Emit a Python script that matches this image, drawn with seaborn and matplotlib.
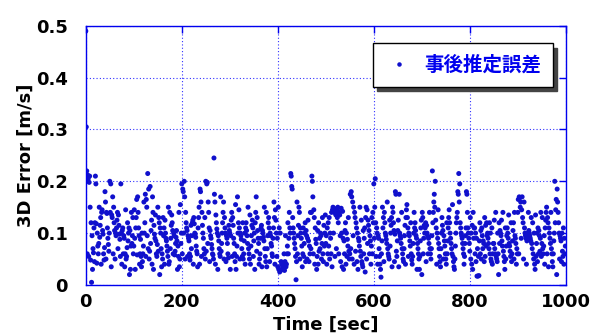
import numpy as np
import pandas as pd
import matplotlib
matplotlib.use("Agg")
import matplotlib.pyplot as plt
import seaborn as sns

# 3D error values in thousandths of m/s, one per second (t = 0..999)
err_mm = [
    490,305,220,60,212,205,55,198,210,150, 48,120,5,95,30,70,62,110,45,120, 210,195,118,42,100,75,60,80,150,92, 115,130,40,140,145,105,98,60,48,72, 180,160,50,140,138,110,90,78,65,100,
    200,140,195,35,135,130,170,60,150,120, 105,50,100,95,110,125,140,70,135,115, 98,88,55,195,100,40,105,110,60,95, 90,35,60,145,50,55,72,120,85,100, 110,20,105,30,75,140,80,95,130,60,
    75,145,90,30,110,130,165,58,170,140, 110,95,40,60,88,55,35,100,45,60, 75,160,100,120,175,55,165,150,95,215, 70,185,50,65,190,80,105,125,40,170, 140,30,115,98,90,135,85,60,55,78,
    150,65,130,120,20,110,100,70,35,60, 50,130,95,110,40,125,100,90,85,75, 65,55,150,40,45,140,70,90,115,135, 120,105,60,100,95,58,65,80,92,105, 85,30,75,55,140,35,50,155,80,100,
    195,60,185,180,100,200,170,50,140,120, 110,105,55,95,90,85,60,48,55,115, 70,95,120,125,40,130,118,100,98,92, 75,65,60,35,110,130,150,40,185,180, 160,55,140,115,100,90,70,60,130,50,
    200,65,195,198,80,160,140,110,45,105, 95,90,78,70,60,58,50,245,175,160, 40,135,120,108,100,30,95,85,70,60, 55,170,65,80,100,120,140,160,50,130, 110,100,45,95,90,80,60,52,115,105,
    100,30,95,125,140,55,130,115,90,80, 60,45,155,30,55,75,170,100,120,145, 110,50,100,95,88,70,55,120,50,60, 85,100,40,110,120,105,95,80,150,70, 60,50,135,40,75,95,115,125,110,55,
    85,100,30,120,140,170,65,130,105,90, 80,40,50,60,90,110,115,35,105,100, 92,85,150,70,55,45,140,35,70,95, 120,130,110,45,100,95,80,75,60,55, 90,110,160,130,40,145,125,100,55,90,
    35,150,30,110,25,100,28,45,40,30, 35,40,30,60,28,45,95,35,40,60, 75,120,60,90,140,110,100,215,210,190, 185,130,110,100,90,80,70,55,10,45, 160,60,95,115,150,140,50,110,100,90,
    75,35,60,110,55,80,100,120,45,105, 95,50,90,125,85,45,75,60,140,70, 140,210,200,170,60,145,130,40,110,88, 80,30,55,105,40,120,65,90,70,100, 95,50,80,130,60,45,115,75,100,135,
    80,95,40,110,60,120,75,130,50,100, 90,60,140,35,145,150,100,148,142,55, 138,135,70,145,130,150,120,60,140,135, 95,45,148,100,35,142,90,30,85,60, 105,120,40,100,55,88,75,130,65,50,
    60,175,70,180,170,50,160,95,150,40, 140,130,65,120,110,45,100,30,90,85, 75,150,65,55,125,45,40,35,105,60, 90,110,25,130,150,50,145,80,125,115, 105,60,95,85,40,75,130,60,140,120,
    195,90,150,205,120,55,110,100,40,95, 90,70,55,40,30,15,60,85,150,110, 130,45,140,120,100,95,88,80,160,70, 60,55,50,125,75,100,115,130,35,150, 140,120,105,45,98,180,175,65,55,85,
    105,125,35,175,100,95,90,80,140,70, 60,50,45,70,95,115,40,130,145,155, 130,110,55,100,95,85,75,120,60,48, 40,55,80,100,140,110,120,105,95,90, 30,80,70,60,50,30,55,85,110,125,
    20,140,130,60,90,115,100,110,120,45, 115,100,95,60,90,80,140,70,60,50, 70,95,220,120,140,160,175,150,200,125, 110,40,100,90,145,80,70,55,45,35, 70,100,130,115,105,50,95,85,75,60,
    50,40,120,60,85,110,130,145,120,100, 90,80,70,60,155,55,45,35,30,50, 75,100,120,130,140,180,175,215,160,195, 120,110,100,95,90,80,70,60,40,55, 80,95,110,180,175,140,110,100,90,80,
    65,130,50,100,40,115,30,140,90,110, 110,60,100,45,90,17,70,17,55,18, 85,120,60,105,50,110,95,70,85,80, 45,130,55,115,75,120,95,100,90,80, 70,120,60,100,50,45,110,40,60,80,
    80,125,70,60,140,55,50,45,100,60, 20,120,80,105,100,95,125,85,75,140, 65,55,45,30,110,50,75,95,110,100, 90,135,80,75,65,55,120,45,60,85, 105,120,50,140,95,90,80,40,70,60,
    140,165,60,170,168,150,160,90,145,170, 130,120,50,160,110,100,95,90,40,85, 95,100,140,105,100,95,90,85,130,80, 70,120,60,50,100,40,30,135,55,80, 100,45,110,60,105,95,65,90,140,55,
    80,130,70,60,75,95,40,110,125,140, 150,60,130,120,35,110,100,90,80,140, 70,60,45,35,60,85,100,200,120,145, 165,20,185,160,140,120,100,50,95,90, 85,45,100,65,55,110,40,90,60,75,
]
time_sec = list(range(len(err_mm)))
series_name = "事後推定誤差"
x_ticks = [0, 200, 400, 600, 800, 1000]
y_ticks = [0, 0.1, 0.2, 0.3, 0.4, 0.5]
y_tick_labels = ["0", "0.1", "0.2", "0.3", "0.4", "0.5"]

df = pd.DataFrame({"Time": time_sec,
                   "Error": np.array(err_mm) / 1000.0,
                   "Series": series_name})

sns.set_style("white")
plt.rcParams['font.family'] = ['DejaVu Sans', 'Noto Sans CJK JP']
plt.rcParams['text.color'] = 'black'
plt.rcParams['axes.labelcolor'] = 'black'

BLUE = "#0000ee"
DOT = "#1010cc"
fig = plt.figure(figsize=(6.0, 3.36), dpi=100)
ax = fig.add_axes([0.143, 0.152, 0.800, 0.771])

sns.scatterplot(data=df, x="Time", y="Error", hue="Series", palette=[DOT],
                s=13, linewidth=0, edgecolor=None, ax=ax, legend=True)

ax.set_xlim(0, 1000)
ax.set_ylim(0, 0.5)
ax.set_xticks(x_ticks)
ax.set_yticks(y_ticks)
ax.set_xticklabels([str(v) for v in x_ticks])
ax.set_yticklabels(y_tick_labels)
ax.grid(True, color="#3030ff", linestyle=(0, (1, 2)), linewidth=0.8)
for sp in ax.spines.values():
    sp.set_color(BLUE)
    sp.set_linewidth(1.0)
ax.tick_params(direction="in", colors=BLUE, length=5, width=1,
               top=True, right=True, labelcolor="black", labelsize=13)
ax.tick_params(axis="y", pad=13)
ax.tick_params(axis="x", pad=6)
for lab in ax.get_xticklabels() + ax.get_yticklabels():
    lab.set_fontweight("bold")
ax.set_xlabel("Time [sec]", fontsize=13, fontweight="bold", labelpad=3, color="black")
ax.set_ylabel("3D Error [m/s]", fontsize=13, fontweight="bold", labelpad=1, color="black")

leg = ax.legend(loc="upper right", bbox_to_anchor=(0.973, 0.932), frameon=True,
                fancybox=False, shadow={"color": "#444444", "alpha": 1.0, "ox": 3, "oy": -3},
                prop={"family": ["Noto Sans CJK JP"], "weight": "bold", "size": 14},
                handletextpad=0.6, borderpad=0.62, borderaxespad=0, markerscale=0.9,
                handlelength=1.4)
leg.get_frame().set_edgecolor("black")
leg.get_frame().set_linewidth(1.0)
for t in leg.get_texts():
    t.set_color(BLUE)

fig.savefig("out.png", dpi=100)
